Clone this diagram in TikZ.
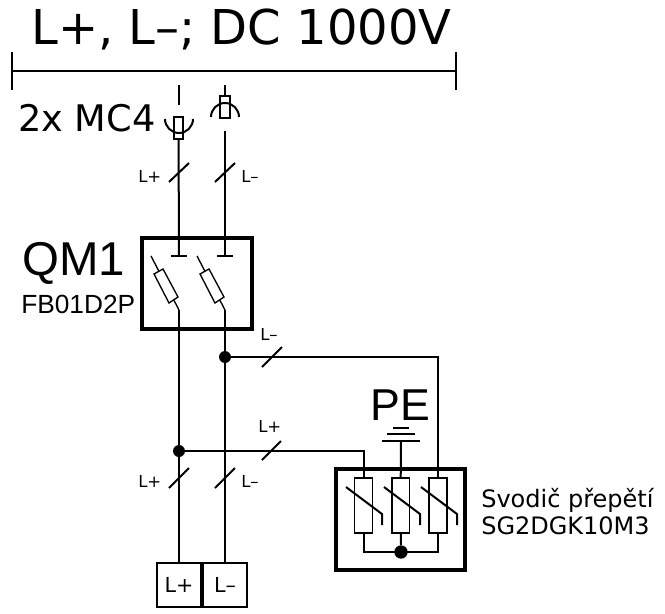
\documentclass[tikz,border=0pt]{standalone}
\usepackage{fontspec}
\setmainfont{DejaVu Sans}
\newfontfamily\arialfont{Liberation Sans}
\tikzset{
	wire/.style = {line width = 1.5pt},
	thinwire/.style = {line width = 1pt},
	frame/.style = {draw, line width = 3pt, inner sep = 0pt},
	dot/.style = {circle, fill = black, inner sep = 0pt, minimum size = 9pt},
	terminal/.style = {draw, line width = 1.5pt, inner sep = 0pt, minimum width = 33pt, minimum height = 33pt, font = \fontsize{15.5}{15.5}\selectfont},
	txt/.style = {anchor = base west, inner sep = 0pt},
	tag/.style = {txt, font = \fontsize{12.4}{12.4}\selectfont}
}
\begin{document}
\begin{tikzpicture}[x = 0.75pt, y = -0.75pt]
	\useasboundingbox (0, 0) rectangle (665, 614);

	% bus
	\coordinate (bus1) at (12, 71);
	\coordinate (bus2) at (456, 71);
	\coordinate (bus1t) at (12, 52);
	\coordinate (bus1b) at (12, 90);
	\coordinate (bus2t) at (456, 52);
	\coordinate (bus2b) at (456, 90);

	\draw [wire] (bus1) -- (bus2);
	\draw [wire] (bus1t) -- (bus1b);
	\draw [wire] (bus2t) -- (bus2b);

	\node [txt, font = \fontsize{36}{36}\selectfont] (title) at (31, 45) {L+, L–; DC 1000V};
	\node [txt, font = \fontsize{27.5}{27.5}\selectfont] (mc4) at (18, 131) {2x MC4};

	% connectors
	\coordinate (p1) at (179, 85);
	\coordinate (p2) at (179, 105);
	\coordinate (p3) at (179, 139);
	\coordinate (m1) at (225, 85);
	\coordinate (m2) at (225, 96);
	\coordinate (m3) at (225, 131);

	\node [draw, thinwire, inner sep = 0pt, minimum width = 6.8pt, minimum height = 16.5pt] (plug1) at (178.5, 128) {};
	\node [draw, thinwire, inner sep = 0pt, minimum width = 7.5pt, minimum height = 16.5pt] (plug2) at (225, 107) {};

	\draw [wire] (p1) -- (p2);
	\draw [wire] (165, 119) arc (180:0:14);
	\draw [wire] (m1) -- (plug2);
	\draw [wire] (211, 117) arc (180:360:14);

	% breaker
	\node [frame, minimum width = 82.5pt, minimum height = 68.25pt] (qm) at (197, 283.5) {};
	\node [txt, font = \arialfont\fontsize{35.6}{35.6}\selectfont] (qmname) at (22, 275) {QM1};
	\node [txt, font = \arialfont\fontsize{19.7}{19.7}\selectfont] (qmtype) at (21, 313) {FB01D2P};

	\coordinate (c1) at (179, 256);
	\coordinate (c2) at (225, 256);
	\coordinate (k1) at (179, 310);
	\coordinate (k2) at (225, 310);
	\coordinate (s1) at (151, 256);
	\coordinate (s2) at (197, 256);

	\draw [wire] (plug1) -- (c1);
	\draw [wire] (m3) -- (c2);
	\draw [wire] (171, 256) -- (187, 256);
	\draw [wire] (217, 256) -- (233, 256);
	\draw [thinwire] (s1) -- (k1);
	\draw [thinwire] (s2) -- (k2);
	\draw [thinwire, fill = white] (154, 274) -- (163, 269) -- (178, 297) -- (169, 303) -- cycle;
	\draw [thinwire, fill = white] (200, 274) -- (209, 269) -- (224, 297) -- (215, 303) -- cycle;

	% wires down
	\node [dot] (j1) at (225, 357) {};
	\node [dot] (j2) at (179, 451) {};
	\node [terminal] (tp) at (179, 584.5) {L+};
	\node [terminal] (tm) at (225, 584.5) {L–};

	\draw [wire] (k1) -- (j2);
	\draw [wire] (j2) -- (tp);
	\draw [wire] (k2) -- (j1);
	\draw [wire] (j1) -- (tm);

	% arrester
	\node [frame, minimum width = 96.75pt, minimum height = 75.75pt] (sg) at (400.5, 519.5) {};
	\node [draw, thinwire, inner sep = 0pt, minimum width = 13.5pt, minimum height = 41.25pt] (r1) at (363.5, 505.5) {};
	\node [draw, thinwire, inner sep = 0pt, minimum width = 13pt, minimum height = 41.25pt] (r2) at (400.5, 505.5) {};
	\node [draw, thinwire, inner sep = 0pt, minimum width = 13.5pt, minimum height = 41.25pt] (r3) at (438, 505.5) {};
	\node [dot, minimum size = 10pt] (j3) at (401, 552) {};

	\coordinate (e1) at (364, 451);
	\coordinate (e2) at (438, 357);
	\coordinate (g) at (401, 441);
	\coordinate (b1) at (364, 552);
	\coordinate (b3) at (438, 552);

	\draw [wire] (j2) -- (e1) -- (r1.north -| e1);
	\draw [wire] (j1) -- (e2) -- (r3);
	\draw [wire] (g) -- (r2);
	\draw [wire] (r1.south -| b1) -- (b1) -- (b3) -- (r3);
	\draw [wire] (r2) -- (j3);

	\draw [wire] (346, 487) -- (382, 514) -- (382, 525);
	\draw [wire] (384, 487) -- (420, 514) -- (420, 525);
	\draw [wire] (421, 487) -- (457, 514) -- (457, 525);

	% earth
	\draw [wire] (382, 441) -- (420, 441);
	\draw [wire] (387, 434) -- (415, 434);
	\draw [wire] (393, 428) -- (409, 428);
	\node [txt, font = \arialfont\fontsize{33.5}{33.5}\selectfont] (pe) at (370, 420) {PE};

	\node [txt, font = \fontsize{18}{18}\selectfont] (sgname) at (481, 507) {Svodič přepětí};
	\node [txt, font = \fontsize{18}{18}\selectfont] (sgtype) at (481, 534) {SG2DGK10M3};

	% slashes
	\draw [wire] (169, 182) -- (189, 163);
	\draw [wire] (215, 182) -- (235, 163);
	\draw [wire] (262, 367) -- (282, 347);
	\draw [wire] (262, 460) -- (281, 441);
	\draw [wire] (169, 488) -- (189, 468);
	\draw [wire] (215, 488) -- (235, 468);

	\node [tag] (lab1) at (138, 182) {L+};
	\node [tag] (lab2) at (241, 182) {L–};
	\node [tag] (lab3) at (260, 340) {L–};
	\node [tag] (lab4) at (258, 432) {L+};
	\node [tag] (lab5) at (138, 487) {L+};
	\node [tag] (lab6) at (241, 487) {L–};
\end{tikzpicture}
\end{document}
